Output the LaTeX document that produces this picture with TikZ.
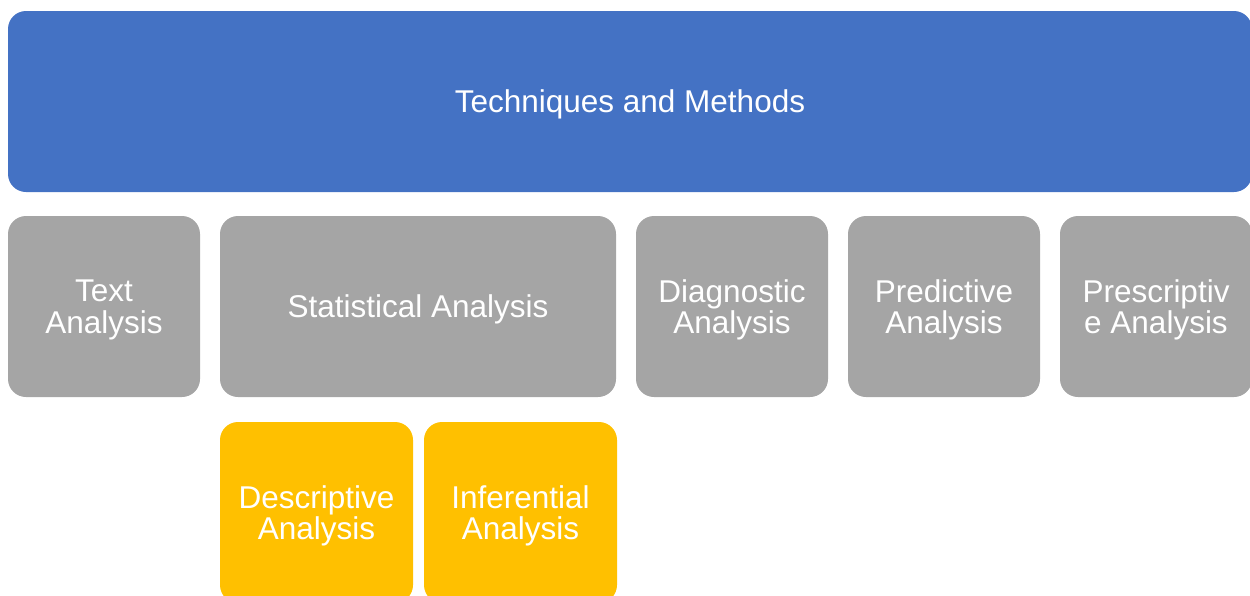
\documentclass[tikz,border=0pt]{standalone}
\usepackage{fontspec}
\setmainfont{Liberation Sans}
\definecolor{topblue}{HTML}{4472C4}
\definecolor{midgray}{HTML}{A5A5A5}
\definecolor{subgold}{HTML}{FFC000}
\begin{document}
\begin{tikzpicture}[x=1pt,y=-1pt,
  box/.style={rectangle, rounded corners=18pt, inner sep=0pt, draw=none,
    text=white, align=center, text depth=0pt,
    font=\fontsize{31.5}{31.5}\selectfont, minimum height=181pt},
  headbox/.style={box, fill=topblue, minimum width=1244pt},
  catbox/.style={box, fill=midgray, minimum width=192pt},
  subbox/.style={box, fill=subgold, minimum width=193pt}]
  \useasboundingbox (0,0) rectangle (1250,595);
  \clip (0,0) rectangle (1250,595);
  % heading
  \node[headbox] (head) at (630,101.5) {Techniques and Methods};
  % analysis categories
  \node[catbox] (text) at (104,306.5) {Text\\Analysis};
  \node[catbox, minimum width=396pt] (stat) at (418,306.5) {Statistical Analysis};
  \node[catbox] (diag) at (732,306.5) {Diagnostic\\Analysis};
  \node[catbox] (pred) at (944,306.5) {Predictive\\Analysis};
  \node[catbox] (presc) at (1156,306.5) {Prescriptiv\\e Analysis};
  % statistical sub-types
  \node[subbox] (desc) at (316.5,512.5) {Descriptive\\Analysis};
  \node[subbox] (infer) at (520.5,512.5) {Inferential\\Analysis};
\end{tikzpicture}
\end{document}
